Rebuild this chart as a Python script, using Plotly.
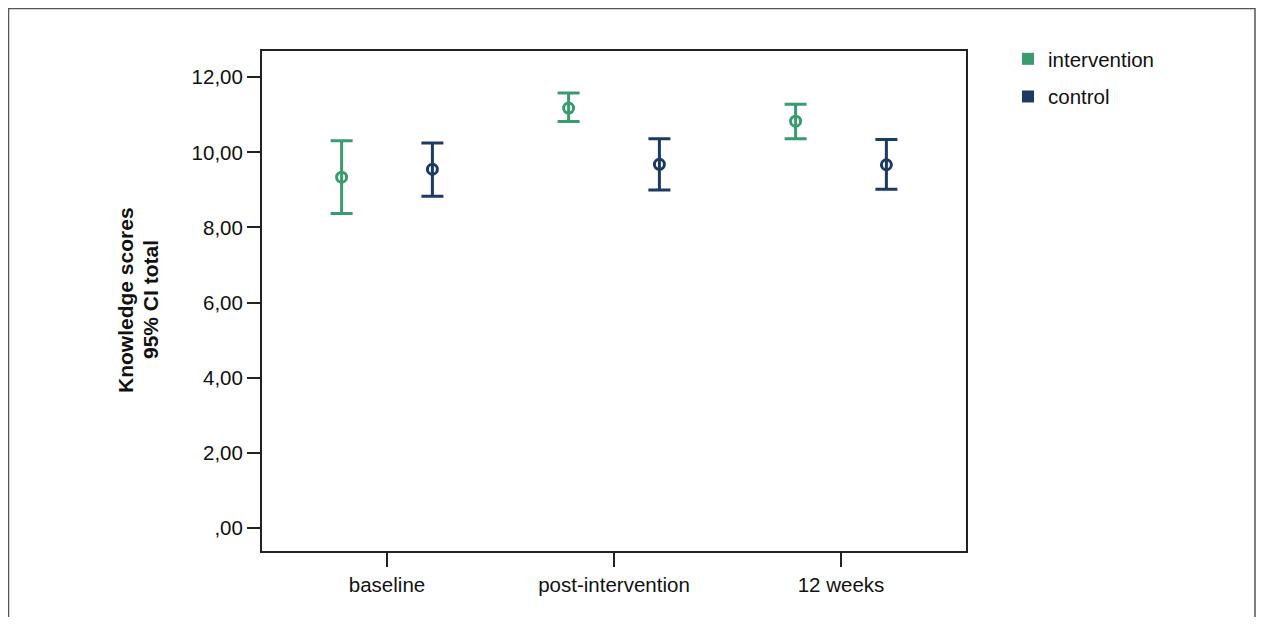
import plotly.graph_objects as go

categories = ["baseline", "post-intervention", "12 weeks"]
groups = ["intervention", "control"]
mean_intervention = [9.34, 11.18, 10.83]
upper_intervention = [10.31, 11.58, 11.28]
lower_intervention = [8.37, 10.82, 10.36]
mean_control = [9.55, 9.68, 9.67]
upper_control = [10.25, 10.36, 10.34]
lower_control = [8.83, 9.00, 9.02]
ytick_vals = [0, 2, 4, 6, 8, 10, 12]
ytick_text = [",00", "2,00", "4,00", "6,00", "8,00", "10,00", "12,00"]

colors = {"intervention": "#3A9C6E", "control": "#1C3A64"}
FONT = "Liberation Sans, Arial, sans-serif"
TXT = "#111111"
offsets = {"intervention": -0.2, "control": 0.2}

series = {
    "intervention": (mean_intervention, upper_intervention, lower_intervention),
    "control": (mean_control, upper_control, lower_control),
}

fig = go.Figure()
for g in groups:
    m, u, l = series[g]
    xs = [i + offsets[g] for i in range(len(categories))]
    fig.add_trace(go.Scatter(
        x=xs, y=m, mode="markers", showlegend=False, name=g,
        marker=dict(symbol="circle-open", size=10, color=colors[g], line=dict(width=3, color=colors[g])),
        error_y=dict(type="data", symmetric=False,
                     array=[a - b for a, b in zip(u, m)],
                     arrayminus=[b - c for b, c in zip(m, l)],
                     color=colors[g], thickness=3, width=11),
    ))

for g in groups:
    fig.add_trace(go.Scatter(
        x=[None], y=[None], mode="markers", name=g, legendgroup=g,
        marker=dict(symbol="square", size=12, color=colors[g]),
    ))

# page is offset by 8px (body margin): work in figure pixels = screen - 8
OFF = 8
W, H = 1264 - 2 * OFF, 625 - 2 * OFF
L, R, T, B = 262 - OFF, 966 - OFF, 51 - OFF, 551 - OFF
def px(x):
    return (x - OFF - L) / (R - L)
def py(y):
    return (B - (y - OFF)) / (B - T)

fig.update_layout(
    width=W, height=H,
    margin=dict(l=L, r=W - R, t=T, b=H - B),
    paper_bgcolor="white", plot_bgcolor="white",
    font=dict(family=FONT, size=20, color=TXT),
    showlegend=True,
    legend=dict(x=px(1008), y=py(39), xanchor="left", yanchor="top",
                font=dict(family=FONT, size=20.5, color=TXT),
                traceorder="grouped", tracegroupgap=8, itemwidth=30,
                bgcolor="rgba(0,0,0,0)"),
    xaxis=dict(range=[-0.5507, 2.5507], tickmode="array", tickvals=list(range(len(categories))),
               ticktext=categories, showline=True, linecolor="#222222", linewidth=2, mirror=True,
               ticks="outside", ticklen=14, tickwidth=2, tickcolor="#222222",
               showgrid=False, zeroline=False,
               tickfont=dict(family=FONT, size=20.5, color=TXT)),
    yaxis=dict(range=[-0.62, 12.70], tickmode="array", tickvals=ytick_vals, ticktext=ytick_text,
               showline=True, linecolor="#222222", linewidth=2, mirror=True,
               ticks="outside", ticklen=13, tickwidth=2, tickcolor="#222222",
               showgrid=False, zeroline=False,
               tickfont=dict(family=FONT, size=20.5, color=TXT)),
    shapes=[dict(type="path", xref="paper", yref="paper",
                 path=f"M {px(8.5)} {py(640)} L {px(8.5)} {py(8.5)} L {px(1255)} {py(8.5)} L {px(1255)} {py(640)}",
                 line=dict(color="#555555", width=1.5))],
    annotations=[
        dict(text="<b>Knowledge scores</b>", xref="paper", yref="paper", x=px(125), y=py(300),
             textangle=-90, showarrow=False, font=dict(family=FONT, size=21, color=TXT),
             xanchor="center", yanchor="middle"),
        dict(text="<b>95% CI total</b>", xref="paper", yref="paper", x=px(150), y=py(300),
             textangle=-90, showarrow=False, font=dict(family=FONT, size=21, color=TXT),
             xanchor="center", yanchor="middle"),
    ],
)

fig.write_html("out.html")
